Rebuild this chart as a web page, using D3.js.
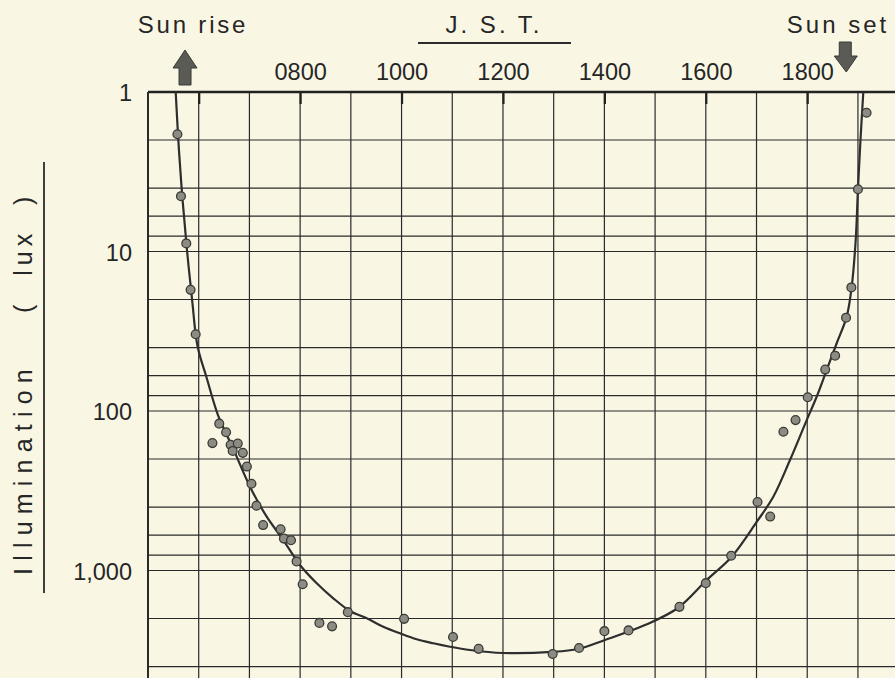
<!DOCTYPE html>
<html>
<head>
<meta charset="utf-8">
<script src="https://cdn.jsdelivr.net/npm/d3@7"></script>
<style>
  body { margin: 0; background: #f9f7e4; }
  svg { display: block; }
  text { font-family: "Liberation Sans", Arial, sans-serif; fill: #262626; }
</style>
</head>
<body>
<div id="chart"></div>
<script>
// measured points: time of day (decimal hours, J.S.T.) and illumination (lux)
const obsHour = [5.58, 5.65, 5.755, 5.84, 5.94, 6.405, 6.54, 6.27, 6.63, 6.77, 6.67, 6.87, 6.95, 7.04, 7.14, 7.27,
  7.615, 7.68, 7.82, 7.93, 8.05, 8.38, 8.63, 8.94, 10.05, 11.015, 11.52, 12.98, 13.5, 14.0, 14.475,
  15.48, 16.0, 16.5, 17.02, 17.27, 17.53, 17.77, 18.01, 18.355, 18.55, 18.765, 18.87, 19.0, 19.17]
const obsLux = [1.84, 4.5, 8.9, 17.4, 33, 120, 136, 159, 163, 160, 178, 183, 223, 286, 392, 519,
  551, 631, 646, 877, 1220, 2130, 2240, 1825, 2010, 2610, 3100, 3340, 3060, 2400, 2375,
  1690, 1200, 808, 372, 459, 135, 114, 82, 55, 45, 26, 16.8, 4.07, 1.35]

// fitted curve drawn through the points
const fitHour = [5.546, 5.61, 5.682, 5.769, 5.87, 5.976, 6.158, 6.38, 6.676, 7.011, 7.341, 7.668, 7.997,
  8.327, 8.654, 8.983, 9.313, 9.64, 9.969, 10.299, 10.626, 10.955, 11.35, 12.0, 12.967, 13.48, 14.01,
  14.8, 15.45, 16.017, 16.51, 17.003, 17.331, 17.66, 17.99, 18.186, 18.384, 18.581, 18.778, 18.877,
  18.956, 19.0, 19.05, 19.106]
const fitLux = [1, 2.31, 4.76, 9.79, 20.1, 39.1, 62.1, 106, 171, 298, 460, 644, 924,
  1203, 1494, 1794, 1994, 2250, 2477, 2700, 2860, 3005, 3150, 3290, 3240, 3105, 2730,
  2200, 1718, 1148, 819, 496, 345, 203, 114, 81.4, 55.3, 37.6, 25.6, 16.6,
  8.47, 4.11, 2.0, 1]

const labelHours = [8, 10, 12, 14, 16, 18]
const hourTickLabels = ["0800", "1000", "1200", "1400", "1600", "1800"]
const tickHours = [6, 8, 10, 12, 14, 16, 18]
const luxTicks = [1, 10, 100, 1000]
const gridHours = d3.range(5, 21)
const gridLux = [1, 2, 4, 6, 8, 10, 20, 40, 60, 80, 100, 200, 400, 600, 800, 1000, 2000, 4000, 6000, 8000, 10000]
const sunRise = 5.73, sunSet = 18.77

const W = 895, H = 678
const x = d3.scaleLinear().domain([5, 20]).range([148, 148 + 15 * 50.71])
const y = d3.scaleLog().domain([1, 10000]).range([92, 92 + 4 * 159.5])

const svg = d3.select('#chart').append('svg')
  .attr('width', W).attr('height', H)

svg.append('clipPath').attr('id', 'plot')
  .append('rect').attr('x', x(5)).attr('y', y(1)).attr('width', W).attr('height', H)

// grid
const grid = svg.append('g').attr('stroke', '#2a2a2a').attr('stroke-width', 1.2)
grid.selectAll('.v').data(gridHours).enter().append('line')
  .attr('x1', d => x(d)).attr('x2', d => x(d))
  .attr('y1', y(1)).attr('y2', H)
grid.selectAll('.h').data(gridLux).enter().append('line')
  .attr('x1', x(5)).attr('x2', W)
  .attr('y1', d => y(d)).attr('y2', d => y(d))
// frame
svg.append('line').attr('x1', x(5)).attr('x2', W).attr('y1', y(1)).attr('y2', y(1))
  .attr('stroke', '#222').attr('stroke-width', 2.4)
svg.append('line').attr('x1', x(5)).attr('x2', x(5)).attr('y1', y(1)).attr('y2', H)
  .attr('stroke', '#222').attr('stroke-width', 1.8)

// top axis: small inner ticks + hour labels
const tickAxis = svg.append('g').attr('transform', 'translate(0,' + y(1) + ')')
  .call(d3.axisTop(x).tickValues(tickHours).tickSize(-12).tickFormat(''))
tickAxis.select('.domain').remove()
tickAxis.selectAll('line').attr('stroke', '#222').attr('stroke-width', 2.2)

const topAxis = svg.append('g').attr('transform', 'translate(0,' + y(1) + ')')
  .call(d3.axisTop(x).tickValues(labelHours).tickSize(0).tickPadding(12)
    .tickFormat((d, i) => hourTickLabels[i]))
topAxis.select('.domain').remove()
topAxis.selectAll('text').style('font-size', '23.5px').attr('fill', '#262626')

// left axis labels
const leftAxis = svg.append('g').attr('transform', 'translate(' + x(5) + ',0)')
  .call(d3.axisLeft(y).tickValues(luxTicks).tickSize(0).tickPadding(16).tickFormat(d3.format(',')))
leftAxis.select('.domain').remove()
leftAxis.selectAll('text').style('font-size', '23.5px').attr('fill', '#262626').attr('dy', '0.38em')

// fitted curve
const line = d3.line()
  .x((d, i) => x(fitHour[i]))
  .y(d => y(d))
  .curve(d3.curveCatmullRom.alpha(0.5))
svg.append('path')
  .attr('clip-path', 'url(#plot)')
  .attr('d', line(fitLux))
  .attr('fill', 'none').attr('stroke', '#2e2e2e').attr('stroke-width', 2.2)

// observations
svg.append('g').selectAll('circle').data(obsLux).enter().append('circle')
  .attr('cx', (d, i) => x(obsHour[i]))
  .attr('cy', d => y(d))
  .attr('r', 4.4)
  .attr('fill', '#8c8c84').attr('stroke', '#3a3a36').attr('stroke-width', 1.3)

// titles
svg.append('text').attr('x', 193).attr('y', 33).attr('text-anchor', 'middle')
  .style('font-size', '24px').style('letter-spacing', '2.8px').text('Sun rise')
svg.append('text').attr('x', 838).attr('y', 33).attr('text-anchor', 'middle')
  .style('font-size', '24px').style('letter-spacing', '3px').text('Sun set')
svg.append('text').attr('x', 494).attr('y', 33).attr('text-anchor', 'middle')
  .style('font-size', '24px').style('letter-spacing', '3px').attr('xml:space', 'preserve').text('J. S. T.')
svg.append('line').attr('x1', 418).attr('x2', 571).attr('y1', 43).attr('y2', 43)
  .attr('stroke', '#2b2b2b').attr('stroke-width', 1.8)

// sun rise / sun set arrows
const arrowFill = '#5b5b55'
const up = x(sunRise), dn = x(sunSet)
svg.append('path')
  .attr('d', `M${up},50 L${up + 12},68 L${up + 6},68 L${up + 6},85 L${up - 6},85 L${up - 6},68 L${up - 12},68 Z`)
  .attr('fill', arrowFill).attr('stroke', '#3a3a36').attr('stroke-width', 1)
svg.append('path')
  .attr('d', `M${dn},72 L${dn + 11},56 L${dn + 5},56 L${dn + 5},42 L${dn - 7},42 L${dn - 7},56 L${dn - 12},56 Z`)
  .attr('fill', arrowFill).attr('stroke', '#3a3a36').attr('stroke-width', 1)

// y title
const yt = svg.append('text').attr('transform', 'translate(32,0) rotate(-90)')
  .style('font-size', '25px')
yt.append('tspan').attr('x', -575).style('letter-spacing', '7.2px').text('Illumination')
yt.append('tspan').attr('x', -313).style('letter-spacing', '5px').attr('xml:space', 'preserve').text('(  lux  )')
svg.append('line').attr('x1', 44).attr('x2', 44).attr('y1', 162).attr('y2', 593)
  .attr('stroke', '#2b2b2b').attr('stroke-width', 1.8)
</script>
</body>
</html>
